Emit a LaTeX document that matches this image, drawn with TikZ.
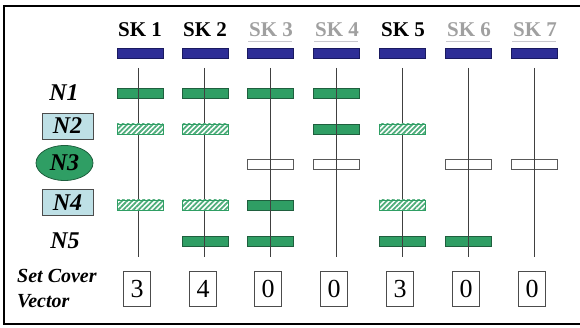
\documentclass[tikz,border=0pt]{standalone}
\usepackage{fontspec}
\setmainfont{Liberation Serif}
\usetikzlibrary{patterns.meta,shapes.geometric}
\definecolor{skblue}{HTML}{2E2E96}
\definecolor{skblueD}{HTML}{1A1A60}
\definecolor{gfill}{HTML}{2F9E64}
\definecolor{gdraw}{HTML}{1F5F3E}
\definecolor{lblue}{HTML}{BEE0E6}
\definecolor{graytxt}{HTML}{A0A0A0}
\definecolor{grayline}{HTML}{C8C8CE}
\tikzset{
  bar/.style={minimum width=46pt,minimum height=10pt,inner sep=0pt,outer sep=0pt},
  bluebar/.style={bar,fill=skblue,draw=skblueD,line width=0.6pt},
  gbar/.style={bar,fill=gfill,draw=gdraw,line width=0.6pt},
  wbar/.style={bar,fill=white,draw=gray!70!black,line width=0.6pt},
  hbar/.style={bar,preaction={fill=white},pattern={Lines[angle=45,distance=3.6pt,line width=1.8pt]},pattern color=gfill!85,draw=gfill,line width=0.6pt},
  sklab/.style={font=\fontsize{21}{23}\selectfont\bfseries,inner sep=0pt},
  skgray/.style={sklab,text=graytxt},
  nlab/.style={font=\fontsize{24}{26}\selectfont\bfseries\itshape,inner sep=0pt},
  nbox/.style={nlab,draw=gray!60!black,fill=lblue,line width=0.6pt,minimum width=51pt,minimum height=26pt},
  numbox/.style={draw=gray!60!black,line width=0.7pt,minimum width=27pt,minimum height=35pt,inner sep=0pt,font=\fontsize{26}{28}\selectfont},
  vline/.style={draw=black!75,line width=0.6pt},
}
\begin{document}
\begin{tikzpicture}[x=1pt,y=-1pt]
\useasboundingbox (0,0) rectangle (580,328);
\draw[line width=2.5pt] (583,6) -- (4,6) -- (4,324) -- (583,324);
% column labels
\node[sklab] (sk1) at (140,30) {SK 1};
\node[sklab] (sk2) at (205,30) {SK 2};
\node[skgray] (sk3) at (271,30) {SK 3};
\node[skgray] (sk4) at (337,30) {SK 4};
\node[sklab] (sk5) at (403,30) {SK 5};
\node[skgray] (sk6) at (469,30) {SK 6};
\node[skgray] (sk7) at (535,30) {SK 7};
\foreach \x/\n in {270/3,336/4,468/6,534/7}{
  \coordinate (ula\n) at (\x-22,42);
  \coordinate (ulb\n) at (\x+22,42);
  \draw[grayline,line width=1pt] (ula\n) -- (ulb\n);
}
% blue bars
\foreach \x/\n in {140/1,205/2,270/3,336/4,402/5,468/6,534/7}{
  \node[bluebar] (b\n) at (\x,53) {};
}
% row labels
\node[nlab] (n1) at (64,93) {N1};
\node[nbox] (n2) at (67.5,126) {N2};
\node[nlab,ellipse,fill=gfill,draw=gdraw,line width=0.8pt,minimum width=57pt,minimum height=35pt,inner sep=1pt] (n3) at (64.5,163) {N3};
\node[nbox] (n4) at (67.5,202.5) {N4};
\node[nlab] (n5) at (65,241) {N5};
\node[font=\fontsize{20}{25}\selectfont\bfseries\itshape,align=left,anchor=west,inner sep=0pt] (scv) at (17,289) {Set Cover\\Vector};
% solid and empty bars
\node[gbar] (g11) at (140,93) {};
\node[gbar] (g21) at (205,93) {};
\node[gbar] (g25) at (205,241) {};
\node[gbar] (g31) at (270,93) {};
\node[wbar] (w33) at (270,164) {};
\node[gbar] (g34) at (270,205) {};
\node[gbar] (g35) at (270,241) {};
\node[gbar] (g41) at (336,93) {};
\node[gbar] (g42) at (336,129) {};
\node[wbar] (w43) at (336,164) {};
\node[gbar] (g55) at (402,241) {};
\node[wbar] (w63) at (468,164) {};
\node[gbar] (g65) at (468,241) {};
\node[wbar] (w73) at (534,164) {};
% vertical lines
\foreach \x/\n in {138/1,204/2,270/3,336/4,402/5,468/6,534/7}{
  \coordinate (vt\n) at (\x,68);
  \coordinate (vb\n) at (\x,257);
  \draw[vline] (vt\n) -- (vb\n);
}
% hatched bars
\node[hbar] (h12) at (140,129) {};
\node[hbar] (h14) at (140,205) {};
\node[hbar] (h22) at (205,129) {};
\node[hbar] (h24) at (205,205) {};
\node[hbar] (h52) at (402,129) {};
\node[hbar] (h54) at (402,205) {};
% set cover vector
\node[numbox] (c1) at (137,289) {3};
\node[numbox] (c2) at (203,289) {4};
\node[numbox] (c3) at (268,289) {0};
\node[numbox] (c4) at (334,289) {0};
\node[numbox] (c5) at (400,289) {3};
\node[numbox] (c6) at (466,289) {0};
\node[numbox] (c7) at (532,289) {0};
\end{tikzpicture}
\end{document}
